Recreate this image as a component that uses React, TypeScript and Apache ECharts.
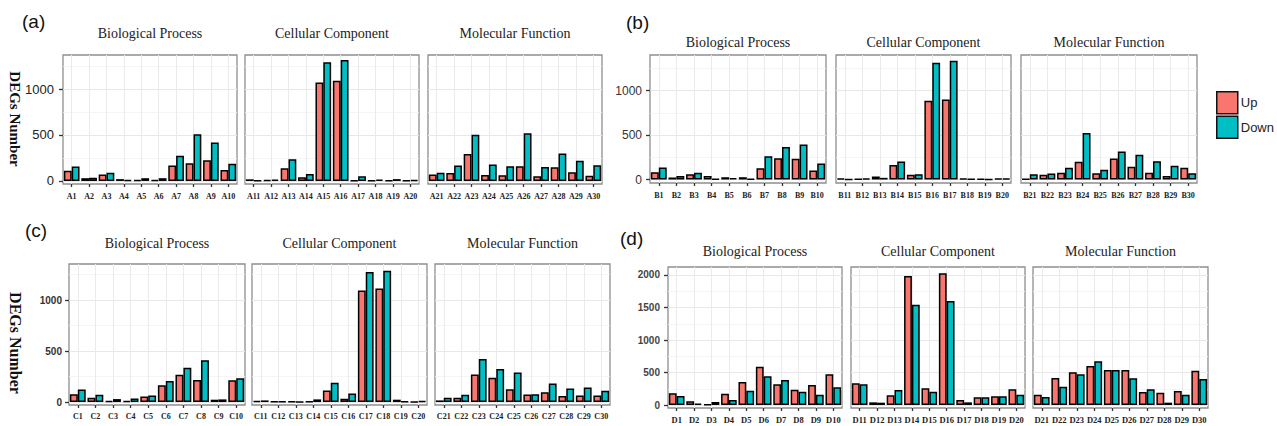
import React, { useEffect, useRef } from 'react';
import * as echarts from 'echarts';

const facetTitles = ['Biological Process', 'Cellular Component', 'Molecular Function'];
const seriesNames = ['Up', 'Down'];

const catsA = ['A1','A2','A3','A4','A5','A6','A7','A8','A9','A10','A11','A12','A13','A14','A15','A16','A17','A18','A19','A20','A21','A22','A23','A24','A25','A26','A27','A28','A29','A30'];
const upA = [112,30,69,20,10,10,167,192,225,120, 18,10,138,40,1072,1090,5,3,5,5, 69,87,293,65,62,160,50,149,94,58];
const downA = [156,35,90,10,30,30,275,507,417,188, 4,15,235,76,1290,1315,50,15,20,12, 90,167,504,178,160,518,152,300,221,170];

const catsB = ['B1','B2','B3','B4','B5','B6','B7','B8','B9','B10','B11','B12','B13','B14','B15','B16','B17','B18','B19','B20','B21','B22','B23','B24','B25','B26','B27','B28','B29','B30'];
const upB = [83,23,60,41,26,26,128,240,233,101, 11,4,34,165,53,887,902,10,8,10, 4,53,75,199,71,237,143,75,41,132];
const downB = [135,41,75,8,15,8,263,365,395,180, 2,11,19,203,60,1316,1338,5,2,10, 60,68,132,523,109,316,278,207,154,71];

const catsC = ['C1','C2','C3','C4','C5','C6','C7','C8','C9','C10','C11','C12','C13','C14','C15','C16','C17','C18','C19','C20','C21','C22','C23','C24','C25','C26','C27','C28','C29','C30'];
const upC = [77,42,10,13,55,165,268,216,23,213, 13,6,6,6,113,32,1094,1113,23,3, 16,42,271,239,126,74,97,58,65,65];
const downC = [123,71,29,35,65,206,335,410,26,232, 16,6,3,26,190,84,1274,1287,6,10, 42,71,423,323,290,77,181,132,142,110];

const catsD = ['D1','D2','D3','D4','D5','D6','D7','D8','D9','D10','D11','D12','D13','D14','D15','D16','D17','D18','D19','D20','D21','D22','D23','D24','D25','D26','D27','D28','D29','D30'];
const upD = [180,56,10,174,354,590,318,236,308,472, 333,41,149,1985,256,2026,77,118,133,241, 159,415,503,600,538,538,200,190,215,528];
const downD = [138,21,46,77,220,441,385,205,159,272, 318,36,231,1544,205,1600,41,118,133,159, 123,282,472,672,538,410,241,36,159,400];

const ticksABC = [0, 500, 1000];
const minorABC = [250, 750, 1250];
const ticksD = [0, 500, 1000, 1500, 2000];
const minorD = [250, 750, 1250, 1750];

const panelData = [
  { cats: catsA, up: upA, down: downA, major: ticksABC, minor: minorABC },
  { cats: catsB, up: upB, down: downB, major: ticksABC, minor: minorABC },
  { cats: catsC, up: upC, down: downC, major: ticksABC, minor: minorABC },
  { cats: catsD, up: upD, down: downD, major: ticksD, minor: minorD },
];

const layout = [
  { letter: '(a)', lx: 22, ly: 21, titleY: 33, top: 55, height: 129, min: -33, max: 1370,
    lefts: [63, 245, 428], widths: [174, 174, 174], yMargin: 9, xMargin: 8, xFont: 8,
    yFont: { fontSize: 13, fontWeight: 'normal', color: '#222' }, ylab: { x: 15, y: 119, size: 15 } },
  { letter: '(b)', lx: 626, ly: 22, titleY: 42, top: 55, height: 128, min: -39, max: 1402,
    lefts: [650, 836, 1021], widths: [176, 175, 176], yMargin: 8, xMargin: 8, xFont: 8,
    yFont: { fontSize: 12, fontWeight: 'normal', color: '#333' }, ylab: null },
  { letter: '(c)', lx: 25, ly: 230, titleY: 243, top: 264, height: 141, min: -29, max: 1353,
    lefts: [69, 252, 435], widths: [176, 175, 175], yMargin: 7, xMargin: 7, xFont: 8,
    yFont: { fontSize: 10, fontWeight: 'bold', color: '#333' }, ylab: { x: 15, y: 343, size: 16 } },
  { letter: '(d)', lx: 620, ly: 238, titleY: 251, top: 267, height: 141, min: -46, max: 2123,
    lefts: [668, 851, 1033], widths: [174, 174, 175], yMargin: 8, xMargin: 7, xFont: 8.5,
    yFont: { fontSize: 10, fontWeight: 'bold', color: '#444' }, ylab: null },
];

const colors = ['#F8766D', '#00BFC4'];

export default function App() {
  const ref = useRef<HTMLDivElement>(null);
  useEffect(() => {
    const chart = echarts.init(ref.current as HTMLDivElement, null, { renderer: 'svg' });
    const grid: any[] = [];
    const xAxis: any[] = [];
    const yAxis: any[] = [];
    const series: any[] = [];
    const graphic: any[] = [];

    layout.forEach((p, pi) => {
      const d = panelData[pi];
      graphic.push({
        type: 'text', x: p.lx, y: p.ly, silent: true,
        style: { text: p.letter, font: '19px "Liberation Sans", Arial, sans-serif', fill: '#111',
          textAlign: 'left', textVerticalAlign: 'middle', align: 'left', verticalAlign: 'middle' },
      });
      if (p.ylab) {
        graphic.push({
          type: 'text', x: p.ylab.x, y: p.ylab.y, rotation: -Math.PI / 2, silent: true,
          style: { text: 'DEGs Number', font: `bold ${p.ylab.size}px "Liberation Serif", serif`, fill: '#111',
            textAlign: 'center', textVerticalAlign: 'middle', align: 'center', verticalAlign: 'middle' },
        });
      }
      for (let f = 0; f < 3; f++) {
        const gi = pi * 3 + f;
        const s = f * 10;
        const e = s + 10;
        graphic.push({
          type: 'text', x: p.lefts[f] + p.widths[f] / 2, y: p.titleY, silent: true,
          style: { text: facetTitles[f], font: '14px "Liberation Serif", serif', fill: '#222',
            textAlign: 'center', textVerticalAlign: 'middle', align: 'center', verticalAlign: 'middle' },
        });
        grid.push({
          left: p.lefts[f], top: p.top, width: p.widths[f], height: p.height,
          show: true, borderColor: '#8f8f8f', borderWidth: 1.3, backgroundColor: '#fff', containLabel: false,
        });
        xAxis.push({
          type: 'category', gridIndex: gi, data: d.cats.slice(s, e), boundaryGap: true, position: 'bottom',
          axisLine: { show: false, onZero: false },
          axisTick: { show: true, alignWithLabel: true, interval: 0, length: 3, lineStyle: { color: '#333', width: 1.3 } },
          axisLabel: { interval: 0, margin: p.xMargin, fontFamily: 'Liberation Serif', fontWeight: 'bold', fontSize: p.xFont, color: '#222' },
          splitLine: { show: true, alignWithLabel: true, interval: 0, lineStyle: { color: '#ebebeb', width: 1 } },
        });
        yAxis.push({
          type: 'value', gridIndex: gi, min: p.min, max: p.max, position: 'left',
          axisLine: { show: false },
          axisTick: { show: f === 0, length: 4, customValues: d.major, lineStyle: { color: '#333', width: 1.3 } },
          axisLabel: { show: f === 0, customValues: d.major, margin: p.yMargin, fontFamily: 'Liberation Sans',
            formatter: (v: number) => String(v), ...p.yFont },
          splitLine: { show: true, lineStyle: { color: '#e8e8e8', width: 1 } },
        });
        yAxis.push({
          type: 'value', gridIndex: gi, min: p.min, max: p.max, position: 'left',
          axisLine: { show: false },
          axisTick: { show: false, customValues: d.minor },
          axisLabel: { show: false },
          splitLine: { show: true, lineStyle: { color: '#f3f3f3', width: 0.8 } },
        });
        [d.up, d.down].forEach((vals, si) => {
          series.push({
            type: 'bar', name: seriesNames[si], xAxisIndex: gi, yAxisIndex: gi * 2,
            data: vals.slice(s, e), barGap: '0%', barCategoryGap: '10%',
            itemStyle: { color: colors[si], borderColor: '#000', borderWidth: 1.5 },
            emphasis: { disabled: true }, silent: true,
          });
        });
      }
    });

    chart.setOption({
      animation: false,
      backgroundColor: '#fff',
      grid, xAxis, yAxis, series, graphic,
      legend: {
        data: seriesNames, orient: 'vertical', left: 1211, top: 86,
        itemWidth: 21, itemHeight: 22, itemGap: 1, icon: 'rect', selectedMode: false,
        itemStyle: { borderColor: '#111', borderWidth: 1.5 },
        textStyle: { fontFamily: 'Liberation Sans', fontSize: 13, color: '#222', padding: [0, 0, 0, -2] },
      },
    });
    return () => chart.dispose();
  }, []);
  return (
    <div
      ref={ref}
      style={{ position: 'absolute', left: 0, top: 0, width: 1277, height: 426, background: '#fff' }}
    />
  );
}
